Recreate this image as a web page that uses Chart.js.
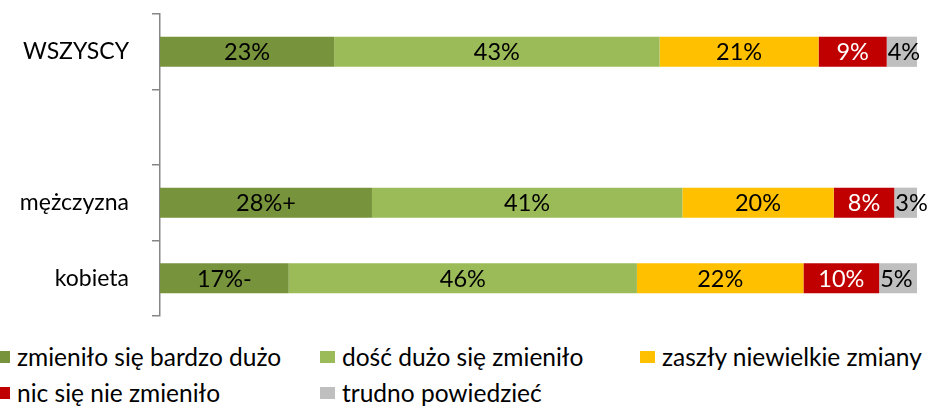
<!DOCTYPE html>
<html>
<head>
<meta charset="utf-8">
<script src="https://cdn.jsdelivr.net/npm/chart.js@4"></script>
<style>
  body { margin: 0; background: #fff; overflow: hidden; }
  #wrap { position: relative; width: 938px; height: 406px; overflow: hidden; font-family: Lato, "Open Sans", sans-serif; }
  #box { position: absolute; left: 0; top: 0; width: 938px; height: 330px; }
  .leg { position: absolute; font-size: 24.5px; color: #000; white-space: nowrap; line-height: 28px; }
  .leg i { position: absolute; left: -22px; top: 8px; width: 15px; height: 12px; }
</style>
</head>
<body>
<div id="wrap">
  <div id="box"><canvas id="c"></canvas></div>
  <div id="legend"></div>
</div>
<script>
// kategorie (pusty wiersz miedzy WSZYSCY a plcia)
const kategorie = ["WSZYSCY", "", "mężczyzna", "kobieta"];
const serie = ["zmieniło się bardzo dużo", "dość dużo się zmieniło", "zaszły niewielkie zmiany", "nic się nie zmieniło", "trudno powiedzieć"];
const kolory = ["#77933C", "#9BBB59", "#FFC000", "#C00000", "#BFBFBF"];
const kolorTekstu = ["#000", "#000", "#000", "#fff", "#000"];

const bardzoDuzo = [23, null, 28, 17];
const doscDuzo = [43, null, 41, 46];
const niewielkie = [21, null, 20, 22];
const nic = [9, null, 8, 10];
const trudno = [4, null, 3, 5];

// etykiety z oznaczeniem istotnosci
const etykietyBardzoDuzo = ["23%", "", "28%+", "17%-"];

const wartosci = [bardzoDuzo, doscDuzo, niewielkie, nic, trudno];
const czcionka = 'Lato, "Open Sans", sans-serif';

// rysuje wartosci na srodku kazdego odcinka
const etykietyPlugin = {
  id: "etykiety",
  afterDatasetsDraw(chart) {
    const ctx = chart.ctx;
    ctx.save();
    ctx.font = "23.5px " + czcionka;
    ctx.textAlign = "center";
    ctx.textBaseline = "middle";
    chart.data.datasets.forEach((ds, i) => {
      chart.getDatasetMeta(i).data.forEach((bar, j) => {
        const v = ds.data[j];
        if (v == null) return;
        const txt = i === 0 ? etykietyBardzoDuzo[j] : v + "%";
        let x = (bar.x + bar.base) / 2;
        if (i === 4) x = bar.base + ctx.measureText(txt).width / 2 + 1;
        ctx.fillStyle = kolorTekstu[i];
        ctx.fillText(txt, x, bar.y + 1);
      });
    });
    ctx.restore();
  }
};

new Chart(document.getElementById("c"), {
  type: "bar",
  data: {
    labels: kategorie,
    datasets: wartosci.map((d, i) => ({
      label: serie[i],
      data: d,
      backgroundColor: kolory[i],
      borderWidth: 0,
      categoryPercentage: 1,
      barPercentage: 0.4
    }))
  },
  options: {
    indexAxis: "y",
    responsive: true,
    maintainAspectRatio: false,
    animation: false,
    layout: { padding: { top: 14, bottom: 14, right: 21, left: 0 } },
    plugins: { legend: { display: false }, tooltip: { enabled: false } },
    scales: {
      x: { stacked: true, min: 0, max: 100, display: false },
      y: {
        stacked: true,
        afterFit(scale) {
          scale.width = 160;
          scale.paddingTop = 0;
          scale.paddingBottom = 0;
        },
        grid: { offset: true, drawOnChartArea: false, tickLength: 8, color: "#868686", lineWidth: 1.5 },
        border: { color: "#868686", width: 1.5 },
        ticks: { color: "#000", padding: 23, font: { family: czcionka, size: 23 } }
      }
    }
  },
  plugins: [etykietyPlugin]
});

// legenda w dwoch wierszach, trzech kolumnach
const pozycje = [[17, 343], [342, 343], [662, 343], [17, 379], [342, 379]];
const legend = document.getElementById("legend");
serie.forEach((s, i) => {
  const d = document.createElement("div");
  d.className = "leg";
  d.style.left = pozycje[i][0] + "px";
  d.style.top = pozycje[i][1] + "px";
  d.innerHTML = '<i style="background:' + kolory[i] + '"></i>' + s;
  legend.appendChild(d);
});
</script>
</body>
</html>
